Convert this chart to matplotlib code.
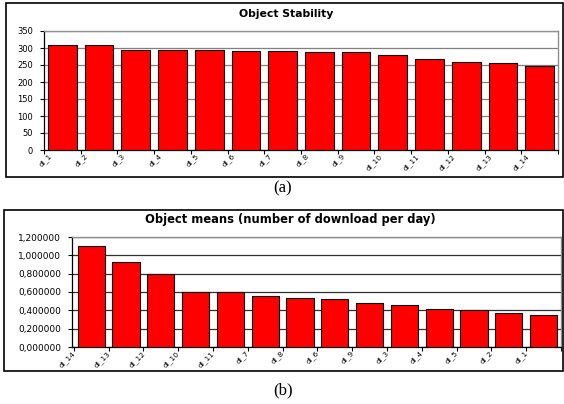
import numpy as np
import matplotlib
matplotlib.use('Agg')
from matplotlib import pyplot as plt
from matplotlib.patches import Rectangle
from matplotlib.ticker import FuncFormatter

# (a) object stability
stab_labels = ['dl_1', 'dl_2', 'dl_3', 'dl_4', 'dl_5', 'dl_6', 'dl_7',
               'dl_8', 'dl_9', 'dl_10', 'dl_11', 'dl_12', 'dl_13', 'dl_14']
stab_values = [310, 308, 294, 294, 294, 292, 291, 288, 288, 280, 267, 258, 255, 247]

# (b) object means
mean_labels = ['dl_14', 'dl_13', 'dl_12', 'dl_10', 'dl_11', 'dl_7', 'dl_8',
               'dl_6', 'dl_9', 'dl_3', 'dl_4', 'dl_5', 'dl_2', 'dl_1']
mean_values = [1.10, 0.93, 0.80, 0.60, 0.60, 0.555, 0.53, 0.52, 0.485,
               0.46, 0.42, 0.40, 0.375, 0.345]

W, H = 564, 404
plt.rcParams['font.family'] = ['DejaVu Sans']
fig = plt.figure(figsize=(W / 100, H / 100), dpi=100)


def px_box(x0, y0, x1, y1):
    # pixel coords (origin top-left) -> figure fraction rect
    return [x0 / W, 1 - y1 / H, (x1 - x0) / W, (y1 - y0) / H]


def draw_panel(rect, labels, values, ymax, ystep, fmt, lab_off, gridc, ysize):
    ax = fig.add_axes(rect)
    n = len(values)
    x = np.arange(n)
    ax.bar(x, values, width=0.78, color='#ff0000', edgecolor='black', linewidth=0.8, zorder=3)
    ax.set_xlim(-0.5, n - 0.5)
    ax.set_ylim(0, ymax)
    ax.set_yticks(np.arange(0, ymax + ystep / 2, ystep))
    ax.yaxis.set_major_formatter(FuncFormatter(fmt))
    ax.set_axisbelow(True)
    ax.yaxis.grid(True, color=gridc, linewidth=0.9)
    # tick marks at category boundaries, labels shifted left
    ax.set_xticks(np.arange(n + 1) - 0.5)
    ax.set_xticklabels([])
    ax.set_xticks(x + lab_off, minor=True)
    ax.set_xticklabels(labels, minor=True, rotation=45, ha='right', va='top',
                       rotation_mode='anchor', fontsize=5.3)
    ax.tick_params(axis='x', which='minor', length=0, pad=2)
    ax.tick_params(axis='x', which='major', length=3, width=0.8, direction='out')
    ax.tick_params(axis='y', length=3, width=0.8, labelsize=ysize, pad=5)
    for s in ['top', 'right']:
        ax.spines[s].set_color('#909090')
        ax.spines[s].set_linewidth(1.0)
    for s in ['left', 'bottom']:
        ax.spines[s].set_color('black')
        ax.spines[s].set_linewidth(0.9)
    return ax


draw_panel(px_box(44, 31, 558, 150), stab_labels, stab_values, 350, 50,
           lambda v, p: '%d' % v, -0.38, '#808080', 6.0)
draw_panel(px_box(72, 237, 561, 347), mean_labels, mean_values, 1.2, 0.2,
           lambda v, p: ('%.6f' % v).replace('.', ','), -0.55, '#303030', 6.5)

# frames around each chart
for (x0, y0, x1, y1) in [(6, 3, 563, 177), (4, 210, 563, 371)]:
    fig.patches.append(Rectangle((x0 / W, 1 - y1 / H), (x1 - x0) / W, (y1 - y0) / H,
                                 transform=fig.transFigure, fill=False,
                                 edgecolor='black', linewidth=1.2))

fig.text(286 / W, 1 - 14 / H, 'Object Stability', ha='center', va='center',
         fontsize=7.8, fontweight='bold')
fig.text(290 / W, 1 - 219 / H, 'Object means (number of download per day)',
         ha='center', va='center', fontsize=8.3, fontweight='bold')
fig.text(283 / W, 1 - 188 / H, '(a)', ha='center', va='center', fontsize=12,
         family='Liberation Serif')
fig.text(283 / W, 1 - 390 / H, '(b)', ha='center', va='center', fontsize=12,
         family='Liberation Serif')

fig.savefig('out.png', dpi=100)
